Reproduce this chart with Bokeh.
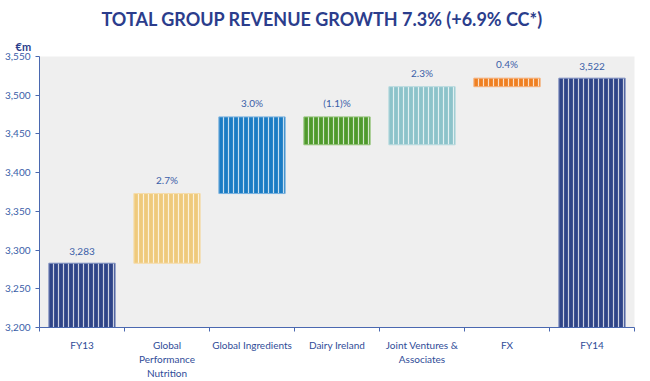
from bokeh.plotting import figure
from bokeh.models import ColumnDataSource, FixedTicker, NumeralTickFormatter, Title, Range1d
from bokeh.core.properties import value
from bokeh.embed import file_html
from bokeh.resources import INLINE

categories = ["FY13", "Global\nPerformance\nNutrition", "Global Ingredients", "Dairy Ireland",
              "Joint Ventures &\nAssociates", "FX", "FY14"]
start_total = 3283
deltas = [90, 99, -36, 75, 11]
end_total = 3522
bar_labels = ["3,283", "2.7%", "3.0%", "(1.1)%", "2.3%", "0.4%", "3,522"]
colors = ["#2e4488", "#efca7c", "#1b7cc4", "#4f9a2c", "#8cc3ca", "#ef8022", "#2e4488"]
edge_colors = ["#7f8fc0", "#f5dcaa", "#7ab2de", "#94c47a", "#b8dade", "#f5b07a", "#7f8fc0"]
y_ticks = [3200, 3250, 3300, 3350, 3400, 3450, 3500, 3550]

base = 3200
bottoms, tops = [base], [start_total]
level = start_total
for d in deltas:
    bottoms.append(min(level, level + d))
    tops.append(max(level, level + d))
    level += d
bottoms.append(base)
tops.append(end_total)

xs = [i + 0.5 for i in range(len(categories))]
src = ColumnDataSource(dict(x=xs, bottom=bottoms, top=tops, color=colors, edge=edge_colors,
                            label=bar_labels))

p = figure(frame_width=595, frame_height=271, output_backend="svg", toolbar_location=None,
           x_range=Range1d(0, 7), y_range=Range1d(3200, 3550),
           min_border_left=39, min_border_right=4, min_border_top=0, min_border_bottom=0,
           title=None)

p.add_layout(Title(text="€m", text_font="Lato", text_font_style="bold", text_font_size="11px",
                   text_color="#2b3d8c", align="left", offset=-24, standoff=7), "above")
p.add_layout(Title(text="TOTAL GROUP REVENUE GROWTH 7.3% (+6.9% CC*)", text_font="Lato",
                   text_font_style="bold", text_font_size="18px", text_color="#2b3d8c",
                   align="left", offset=62, standoff=10), "above")

p.background_fill_color = "#efefef"
p.border_fill_color = "white"
p.outline_line_color = None
p.xgrid.visible = False
p.ygrid.visible = False

p.vbar(x="x", bottom="bottom", top="top", width=0.78, source=src,
       fill_color="color", line_color="edge", line_width=1,
       hatch_pattern="vertical_line", hatch_color="white", hatch_scale=5,
       hatch_weight=1.2, hatch_alpha=0.75)

p.text(x="x", y="top", text="label", source=src, y_offset=-8,
       text_align="center", text_baseline="bottom",
       text_font=value("Lato"), text_font_size="10px", text_color="#3a5ea8")

axis_color = "#4a68b0"
p.yaxis.ticker = FixedTicker(ticks=y_ticks)
p.yaxis.formatter = NumeralTickFormatter(format="0,0")
p.yaxis.axis_line_color = axis_color
p.yaxis.major_tick_line_color = axis_color
p.yaxis.major_tick_out = 4
p.yaxis.major_tick_in = 0
p.yaxis.minor_tick_line_color = None
p.yaxis.major_label_text_color = "#3a5ea8"
p.yaxis.major_label_text_font = "Lato"
p.yaxis.major_label_text_font_size = "10px"
p.yaxis.major_label_standoff = 5

p.xaxis.ticker = FixedTicker(ticks=xs, minor_ticks=list(range(len(categories) + 1)))
p.xaxis.major_label_overrides = {x: c for x, c in zip(xs, categories)}
p.xaxis.axis_line_color = axis_color
p.xaxis.major_tick_line_color = None
p.xaxis.minor_tick_line_color = axis_color
p.xaxis.minor_tick_out = 4
p.xaxis.minor_tick_in = 0
p.xaxis.major_label_text_color = "#2f4c98"
p.xaxis.major_label_text_font = "Lato"
p.xaxis.major_label_text_font_size = "10px"
p.xaxis.major_label_standoff = 5

open("out.html", "w").write(file_html(p, INLINE))
